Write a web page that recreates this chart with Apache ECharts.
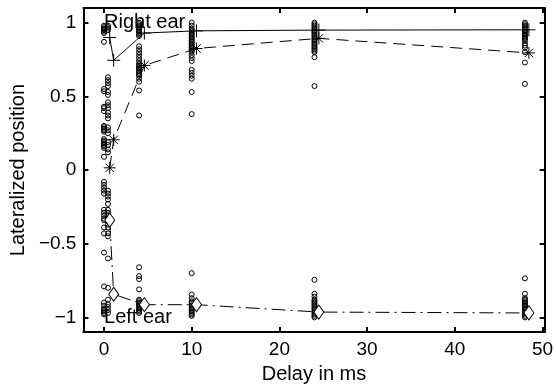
<!DOCTYPE html>
<html>
<head>
<meta charset="utf-8">
<script src="https://cdn.jsdelivr.net/npm/echarts@6/dist/echarts.min.js"></script>
<style>html,body{margin:0;padding:0;background:#fff}#c{width:556px;height:389px}</style>
</head>
<body>
<div id="c"></div>
<script>
// Tick labels
var xTicks = [0, 10, 20, 30, 40, 50];
var yTicks = [-1, -0.5, 0, 0.5, 1];

// Individual responses per delay (ms)
var delay0 = 0;
var resp0 = [0.98, 0.97, 0.96, 0.955, 0.95, 0.94, 0.93, 0.87, 0.55, 0.535, 0.43, 0.42, 0.40, 0.30, 0.29, 0.28, 0.27, 0.26, 0.21, 0.20, 0.19, 0.18, 0.17, 0.16, 0.15, 0.09, -0.08, -0.10, -0.12, -0.14, -0.16, -0.27, -0.29, -0.31, -0.33, -0.34, -0.39, -0.43, -0.56, -0.79, -0.90, -0.92, -0.94, -0.95, -0.96, -0.97, -0.98];
var delay05 = 0.45;
var resp05 = [0.98, 0.97, 0.96, 0.95, 0.63, 0.61, 0.59, 0.57, 0.53, 0.51, 0.46, 0.44, 0.42, 0.39, 0.37, 0.35, 0.29, 0.27, 0.25, 0.19, 0.17, 0.14, 0.12, -0.14, -0.16, -0.18, -0.20, -0.23, -0.27, -0.29, -0.31, -0.33, -0.35, -0.37, -0.39, -0.43, -0.45, -0.60, -0.80, -0.88, -0.91, -0.93, -0.95, -0.97];
var delay4 = 4;
var resp4 = [1.0, 0.99, 0.98, 0.97, 0.96, 0.95, 0.94, 0.93, 0.92, 0.91, 0.84, 0.82, 0.80, 0.78, 0.76, 0.74, 0.72, 0.71, 0.70, 0.69, 0.68, 0.67, 0.66, 0.65, 0.64, 0.62, 0.60, 0.54, 0.37, -0.66, -0.72, -0.74, -0.81, -0.88, -0.89, -0.90, -0.91, -0.92, -0.93, -0.94, -0.95, -0.96, -0.97];
var delay10 = 10;
var resp10 = [1.0, 0.98, 0.96, 0.95, 0.94, 0.93, 0.92, 0.91, 0.90, 0.89, 0.88, 0.87, 0.86, 0.85, 0.84, 0.83, 0.82, 0.81, 0.80, 0.78, 0.76, 0.74, 0.68, 0.66, 0.64, 0.62, 0.53, 0.38, -0.70, -0.845, -0.87, -0.89, -0.90, -0.91, -0.92, -0.93, -0.94, -0.95, -0.96, -0.97, -0.98, -0.99];
var delay24 = 24;
var resp24 = [1.0, 0.99, 0.98, 0.97, 0.96, 0.95, 0.94, 0.93, 0.92, 0.91, 0.90, 0.89, 0.88, 0.87, 0.86, 0.85, 0.84, 0.83, 0.82, 0.81, 0.80, 0.766, 0.57, -0.745, -0.84, -0.86, -0.88, -0.89, -0.90, -0.91, -0.92, -0.93, -0.94, -0.95, -0.96, -0.97, -0.98, -0.99, -1.0];
var delay48 = 48;
var resp48 = [1.0, 0.99, 0.98, 0.97, 0.96, 0.95, 0.94, 0.93, 0.92, 0.91, 0.90, 0.89, 0.88, 0.86, 0.845, 0.83, 0.80, 0.73, 0.585, -0.735, -0.84, -0.87, -0.88, -0.89, -0.90, -0.91, -0.92, -0.93, -0.94, -0.95, -0.96, -0.97, -0.98, -0.99, -1.0];

// Mean curves (plotted slightly offset from delay)
var meanX = [0.65, 1.1, 4.6, 10.55, 24.5, 48.45];
var rightMean = [0.90, 0.745, 0.93, 0.945, 0.95, 0.952];
var centerMean = [0.015, 0.205, 0.71, 0.825, 0.894, 0.795];
var leftMean = [-0.34, -0.843, -0.914, -0.914, -0.964, -0.97];

// Annotations
var annotations = [{ x: 0, y: 1, text: 'Right ear' }, { x: 0, y: -1, text: 'Left ear' }];

function pairs(x, ys) { return ys.map(function (v) { return [x, v]; }); }
function zip(xs, ys) { return xs.map(function (x, i) { return [x, ys[i]]; }); }

var scatterData = [].concat(
  pairs(delay0, resp0), pairs(delay05, resp05), pairs(delay4, resp4),
  pairs(delay10, resp10), pairs(delay24, resp24), pairs(delay48, resp48)
);

var FONT = 'Liberation Sans';
var fmtY = function (v) { return v < 0 ? '\u2212' + Math.abs(v) : String(v); };
var axisLineStyle = { color: '#000', width: 2 };

var chart = echarts.init(document.getElementById('c'), null, { renderer: 'canvas' });
chart.setOption({
  animation: false,
  backgroundColor: '#fff',
  grid: { left: 76.7, right: 10.5, top: 8, bottom: 53.3 },
  xAxis: [{
    type: 'value', min: -2.35, max: 50.25, position: 'bottom',
    name: 'Delay in ms', nameLocation: 'middle', nameGap: 23,
    nameTextStyle: { fontFamily: FONT, fontSize: 20, color: '#000' },
    axisLine: { show: true, onZero: false, lineStyle: axisLineStyle },
    axisTick: { show: true, inside: true, length: 5, lineStyle: axisLineStyle, customValues: xTicks },
    axisLabel: { show: true, margin: 8, fontFamily: FONT, fontSize: 19, color: '#000', customValues: xTicks },
    splitLine: { show: false }
  }, {
    type: 'value', min: -2.35, max: 50.25, position: 'top',
    axisLine: { show: true, onZero: false, lineStyle: axisLineStyle },
    axisTick: { show: true, inside: true, length: 5, lineStyle: axisLineStyle, customValues: xTicks },
    axisLabel: { show: false },
    splitLine: { show: false }
  }],
  yAxis: [{
    type: 'value', min: -1.1, max: 1.1, position: 'left',
    name: 'Lateralized position', nameLocation: 'middle', nameGap: 46, nameRotate: 90,
    nameTextStyle: { fontFamily: FONT, fontSize: 20, color: '#000' },
    axisLine: { show: true, onZero: false, lineStyle: axisLineStyle },
    axisTick: { show: true, inside: true, length: 5, lineStyle: axisLineStyle, customValues: yTicks },
    axisLabel: { show: true, margin: 7, fontFamily: FONT, fontSize: 19, color: '#000', customValues: yTicks, formatter: fmtY },
    splitLine: { show: false }
  }, {
    type: 'value', min: -1.1, max: 1.1, position: 'right',
    axisLine: { show: true, onZero: false, lineStyle: axisLineStyle },
    axisTick: { show: true, inside: true, length: 5, lineStyle: axisLineStyle, customValues: yTicks },
    axisLabel: { show: false },
    splitLine: { show: false }
  }],
  series: [{
    type: 'scatter', data: scatterData, symbol: 'circle', symbolSize: 5,
    itemStyle: { color: 'rgba(0,0,0,0)', borderColor: '#000', borderWidth: 1, opacity: 1 },
    z: 2
  }, {
    type: 'line', data: zip(meanX, rightMean),
    symbol: 'path://M0,5L10,5M5,0L5,10', symbolSize: 13,
    lineStyle: { color: '#000', width: 1, type: 'solid' },
    itemStyle: { color: 'rgba(0,0,0,0)', borderColor: '#000', borderWidth: 1 },
    z: 3
  }, {
    type: 'line', data: zip(meanX, centerMean),
    symbol: 'path://M0,5L10,5M5,0L5,10M1.5,1.5L8.5,8.5M1.5,8.5L8.5,1.5', symbolSize: 12,
    lineStyle: { color: '#000', width: 1, type: [12, 7] },
    itemStyle: { color: 'rgba(0,0,0,0)', borderColor: '#000', borderWidth: 1 },
    z: 3
  }, {
    type: 'line', data: zip(meanX, leftMean),
    symbol: 'diamond', symbolSize: [10, 14],
    lineStyle: { color: '#000', width: 1, type: [14, 5, 2, 5] },
    itemStyle: { color: '#fff', borderColor: '#000', borderWidth: 1 },
    z: 3
  }, {
    type: 'scatter', symbolSize: 0,
    itemStyle: { opacity: 1 },
    data: annotations.map(function (a) { return { value: [a.x, a.y], name: a.text }; }),
    label: { show: true, position: 'right', distance: 0, formatter: '{b}', fontFamily: FONT, fontSize: 20, color: '#000', opacity: 1 },
    z: 5, silent: true
  }]
});
</script>
</body>
</html>
